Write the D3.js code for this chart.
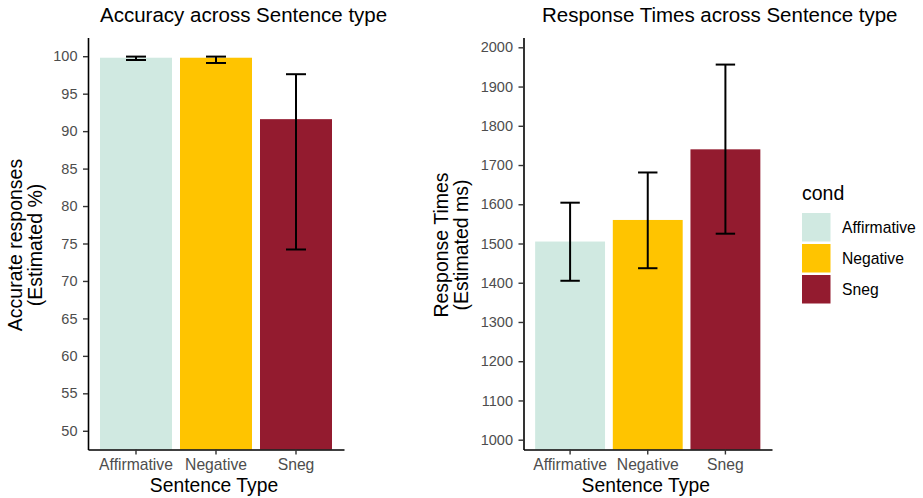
<!DOCTYPE html>
<html>
<head>
<meta charset="utf-8">
<script src="https://cdn.jsdelivr.net/npm/d3@7"></script>
<style>
  body { margin: 0; background: #fff; }
  svg, svg text { font-family: "Liberation Sans", Arial, sans-serif; }
</style>
</head>
<body>
<div id="chart"></div>
<script>
const categories = ["Affirmative", "Negative", "Sneg"];
const colors = ["#d0e9e1", "#ffc400", "#931b2f"];

// accuracy panel (estimated %)
const accEstimate = [99.8, 99.8, 91.6];
const accLower = [99.5, 99.1, 74.2];
const accUpper = [99.95, 99.95, 97.6];
const accTicks = [50, 55, 60, 65, 70, 75, 80, 85, 90, 95, 100];

// response time panel (estimated ms)
const rtEstimate = [1505, 1560, 1740];
const rtLower = [1405, 1437, 1525];
const rtUpper = [1604, 1681, 1956];
const rtTicks = [1000, 1100, 1200, 1300, 1400, 1500, 1600, 1700, 1800, 1900, 2000];

const width = 923, height = 498;
const svg = d3.select("#chart").append("svg").attr("width", width).attr("height", height);

function drawPanel(opts) {
    const x = d3.scaleBand().domain(categories)
        .range([opts.x0, opts.x1]).paddingInner(0.1).paddingOuter(0.15);
    const y = d3.scaleLinear().domain(opts.domain).range([449.5, 37.5]);
    const g = svg.append("g");
    const rows = categories.map((c, i) => ({
        cat: c, est: opts.est[i], lo: opts.lo[i], hi: opts.hi[i], col: colors[i]
    }));

    g.selectAll(".bar").data(rows).join("rect")
        .attr("class", "bar")
        .attr("x", d => x(d.cat))
        .attr("width", x.bandwidth())
        .attr("y", d => y(d.est))
        .attr("height", d => y(opts.domain[0]) - y(d.est))
        .attr("fill", d => d.col);

    // error bars
    const capW = x.step() * 0.25;
    const cx = d => x(d.cat) + x.bandwidth() / 2;
    const eb = g.selectAll(".err").data(rows).join("g").attr("class", "err")
        .attr("stroke", "#000").attr("stroke-width", 2);
    eb.append("line")
        .attr("x1", cx).attr("x2", cx)
        .attr("y1", d => y(d.lo)).attr("y2", d => y(d.hi));
    eb.append("line")
        .attr("x1", d => cx(d) - capW / 2).attr("x2", d => cx(d) + capW / 2)
        .attr("y1", d => y(d.lo)).attr("y2", d => y(d.lo));
    eb.append("line")
        .attr("x1", d => cx(d) - capW / 2).attr("x2", d => cx(d) + capW / 2)
        .attr("y1", d => y(d.hi)).attr("y2", d => y(d.hi));

    // axes
    const yAxis = g.append("g").attr("transform", `translate(${opts.x0},0)`)
        .call(d3.axisLeft(y).tickValues(opts.ticks).tickFormat(d3.format("d"))
            .tickSize(5).tickPadding(5.5).tickSizeOuter(0));
    const xAxis = g.append("g").attr("transform", `translate(0,${y(opts.domain[0])})`)
        .call(d3.axisBottom(x).tickSize(5).tickPadding(4).tickSizeOuter(0));
    [yAxis, xAxis].forEach(a => {
        a.attr("font-family", null);
        a.select(".domain").attr("stroke", "#000").attr("stroke-width", 1.6);
        a.selectAll(".tick line").attr("stroke", "#333").attr("stroke-width", 1.4);
        a.selectAll(".tick text").attr("fill", "#4d4d4d");
    });
    yAxis.selectAll(".tick text").style("font-size", "14.5px");
    xAxis.selectAll(".tick text").style("font-size", "15.7px");

    // titles
    g.append("text").attr("x", opts.titleX).attr("y", 22)
        .style("font-size", "20.5px").attr("fill", "#000").text(opts.title);
    g.append("text").attr("x", (opts.x0 + opts.x1) / 2 - 2).attr("y", 492)
        .attr("text-anchor", "middle").style("font-size", "19.3px").text("Sentence Type");
    const yt = g.append("text").attr("text-anchor", "middle")
        .attr("transform", `translate(${opts.yTitleX},245) rotate(-90)`)
        .style("font-size", "19.5px");
    yt.append("tspan").attr("x", 0).attr("dy", 0).text(opts.yTitle[0]);
    yt.append("tspan").attr("x", 0).attr("dy", 20).text(opts.yTitle[1]);
}

drawPanel({
    x0: 88, x1: 344, domain: [47.5, 102.5], ticks: accTicks,
    est: accEstimate, lo: accLower, hi: accUpper,
    title: "Accuracy across Sentence type", titleX: 100,
    yTitle: ["Accurate responses", "(Estimated %)"], yTitleX: 22
});

drawPanel({
    x0: 523.5, x1: 772, domain: [975, 2025], ticks: rtTicks,
    est: rtEstimate, lo: rtLower, hi: rtUpper,
    title: "Response Times across Sentence type", titleX: 542,
    yTitle: ["Response Times", "(Estimated ms)"], yTitleX: 448
});

// legend
const legend = svg.append("g").attr("transform", "translate(802,0)");
legend.append("text").attr("x", 0).attr("y", 200).style("font-size", "19.5px").text("cond");
const items = legend.selectAll(".item").data(categories).join("g")
    .attr("transform", (d, i) => `translate(0,${213 + i * 31})`);
items.append("rect").attr("width", 28.5).attr("height", 28.5)
    .attr("fill", (d, i) => colors[i]);
items.append("text").attr("x", 40).attr("y", 14.5).attr("dy", "0.35em")
    .style("font-size", "15.7px").attr("fill", "#000").text(d => d);
</script>
</body>
</html>
